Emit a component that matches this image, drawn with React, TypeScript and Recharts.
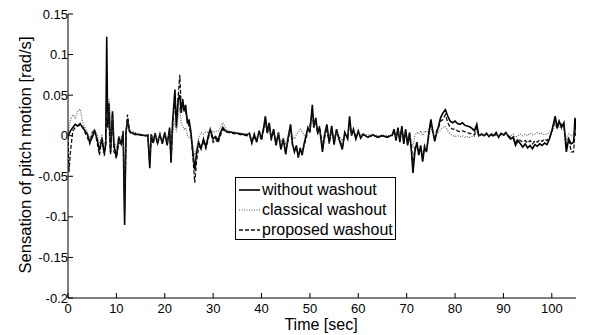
import { LineChart, Line, XAxis, YAxis, Legend, Label } from 'recharts'

// time base [sec] shared by all three series
const time = [
  0, 0.2, 0.5, 1, 1.5, 2, 2.5, 3, 3.5, 4, 4.5, 5, 5.5, 6, 6.5, 7, 7.5, 7.8,
  8, 8.2, 8.5, 8.8, 9.2, 9.5, 10, 10.5, 11, 11.4, 11.7, 12, 12.3, 12.7, 13, 14, 15, 16, 16.5,
  16.9, 17.2, 17.6, 18, 18.5, 19, 19.5, 20, 20.5, 21, 21.3, 21.6, 22.1,
  22.4, 22.8, 23.1, 23.4, 23.7, 24, 24.3, 24.7, 25, 25.4, 25.8, 26.2, 26.6, 27, 27.5, 28, 28.5, 29, 29.4,
  30, 30.5, 31, 31.5, 32, 32.5, 33, 34, 35, 36, 37, 37.5, 38, 38.5, 39, 39.5, 40,
  40.5, 40.8, 41.2, 41.6, 42, 42.5, 43, 43.5, 44, 44.5, 45, 45.5, 46, 46.4, 46.8, 47.2, 47.6, 48, 48.4, 48.8, 49.2, 49.6, 50,
  50.5, 50.8, 51.2, 51.6, 52, 52.6, 53, 53.5, 54, 54.5, 55, 55.5, 56, 56.7, 57.2, 57.8, 58.2, 58.6, 59, 59.5, 60, 60.5,
  61, 62, 63, 64, 65, 66, 67, 67.4, 67.8, 68.2, 68.6, 69, 69.4, 69.8, 70.2, 70.6,
  71, 71.3, 71.7, 72.1, 72.5, 72.9, 73.3, 73.7, 74.1, 74.5, 75, 75.4, 75.8, 76.2, 76.6, 77, 77.5, 78, 78.5, 79, 79.5,
  80, 80.5, 81, 81.5, 82, 82.5, 83, 83.5, 84, 84.5, 84.9, 85.5, 86, 86.5, 87, 87.5, 88, 88.5, 89, 89.5, 90, 90.5,
  91, 91.5, 92, 92.5, 93, 93.5, 94, 94.5, 95, 95.5, 96, 96.5, 97, 97.5, 98, 98.5, 99, 99.5, 100, 100.7, 101.1, 101.5, 102, 102.5, 103, 103.5, 104, 104.5, 104.8, 105,
]

const withoutWashout = [
  0, 0.002, 0.006, 0.01, 0.014, 0.012, 0.015, 0.01, 0.006, 0.002, -0.008, -0.002, 0.006, -0.004, -0.018, -0.004, -0.022, -0.01,
  0.122, 0.01, 0.04, -0.02, 0.03, -0.012, -0.026, -0.002, -0.01, 0.004, -0.11, 0.005, 0.02, 0.006, 0.004, 0.002, 0.001, 0, 0.001,
  -0.04, 0.002, -0.008, 0.003, -0.009, 0.002, -0.01, 0.004, -0.012, 0.01, -0.032, 0.015, 0.057,
  0.01, 0.045, 0.05, 0.028, 0.045, 0.03, 0.038, 0.015, 0.02, 0.005, -0.02, -0.042, -0.02, -0.008, -0.016, -0.004, -0.014, 0, 0.008,
  -0.004, -0.001, -0.006, 0.004, 0.01, 0.006, 0.005, 0.004, 0.003, 0.002, 0.001, 0.003, -0.009, 0.002, -0.008, 0.006, -0.004,
  0.012, 0.024, 0.004, 0.016, -0.004, 0.008, -0.012, 0.004, -0.017, -0.004, -0.023, -0.002, 0.014, -0.01, -0.02, -0.012, -0.027, -0.015, -0.024, -0.01, 0, 0.01, 0.004,
  0.038, 0.01, 0.022, 0.004, 0.01, -0.02, 0, 0.014, -0.008, 0.012, -0.011, 0.008, -0.004, -0.017, 0.004, -0.004, 0.024, 0, 0.008, -0.004, 0.006, -0.003,
  0.002, -0.002, 0.001, -0.002, 0, -0.002, 0.001, 0.008, -0.006, 0.01, -0.008, 0.012, -0.01, 0.008, -0.012, 0.004,
  -0.02, -0.046, -0.02, -0.008, -0.024, -0.012, -0.032, -0.014, -0.02, 0, 0.02, 0.006, -0.007, 0.004, 0.012, 0.022, 0.028, 0.032, 0.024, 0.018, 0.016,
  0.018, 0.015, 0.014, 0.016, 0.013, 0.012, 0.011, 0.009, 0.006, 0.014, 0, 0.002, 0, 0.003, -0.001, 0.002, 0, 0.004, -0.002, 0.003, 0.001, 0.004,
  -0.001, -0.004, -0.002, -0.012, -0.006, -0.01, -0.014, -0.01, -0.015, -0.012, -0.016, -0.011, -0.013, -0.01, -0.012, -0.009, -0.011, -0.004, 0.006, 0.024, 0.01, 0.018, 0.01, 0.016, -0.02, -0.004, -0.01, -0.008, 0.022, 0.005,
]

const classicalWashout = [
  0, 0.01, 0.02, 0.026, 0.022, 0.03, 0.033, 0.018, 0.01, 0.004, -0.004, 0.002, 0.008, 0.002, -0.01, 0, -0.012, -0.005,
  0.03, 0.02, 0.045, -0.01, 0.025, -0.005, -0.015, 0, -0.004, 0.004, -0.06, 0.004, 0.018, 0.008, 0.006, 0.004, 0.002, 0.001, 0.001,
  -0.02, 0.002, -0.004, 0.002, -0.006, 0.001, -0.004, 0.003, -0.006, 0.004, -0.015, 0, 0.02,
  0.005, 0.025, 0.035, 0.015, 0.012, 0.008, 0.01, 0, -0.002, -0.004, -0.012, -0.025, -0.015, -0.002, 0.004, 0.002, 0.005, 0.004, 0.008,
  0.004, 0.006, 0.005, 0.01, 0.016, 0.01, 0.006, 0.005, 0.004, 0.003, 0.002, 0.002, -0.004, 0, -0.002, 0.003, 0.001,
  0.006, 0.012, 0.006, 0.01, 0, 0.004, -0.004, 0.002, -0.008, -0.002, -0.01, 0, 0.006, 0, -0.004, 0.002, 0.004, 0.008, 0.005, 0, 0.002, 0.006, 0.008,
  0.02, 0.012, 0.015, 0.006, 0.005, -0.008, 0.002, 0.008, -0.002, 0.006, -0.004, 0.004, 0, -0.006, 0.002, 0, 0.012, 0.002, 0.004, 0, 0.004, 0.001,
  0.002, 0.001, 0.002, 0, 0.001, 0, 0.001, 0.004, -0.002, 0.005, 0, 0.006, -0.002, 0.004, -0.004, 0.002,
  -0.006, -0.015, 0, 0.004, 0.002, 0.006, 0, 0.006, 0.004, 0.008, 0.01, 0.004, -0.002, 0.002, 0.004, 0.008, 0.01, 0.012, 0.006, 0.002, 0,
  -0.001, 0, -0.001, 0, -0.002, -0.001, -0.002, -0.001, -0.001, 0.008, 0, 0.001, 0, 0.002, 0, 0.001, 0, 0.002, 0, 0.001, 0.002, 0.002,
  0.001, 0, 0.002, -0.002, 0, 0.002, 0, 0.002, 0, 0.003, 0.001, 0.002, 0.004, 0.002, 0.003, 0.001, 0.002, 0.004, 0.006, 0.014, 0.008, 0.012, 0.008, 0.01, -0.004, 0.002, 0, 0.002, 0.01, 0.003,
]

const proposedWashout = [
  0, -0.045, -0.02, 0.006, 0.01, 0.012, 0.013, 0.012, 0.004, -0.002, -0.01, 0.004, 0.007, -0.008, -0.024, -0.002, -0.025, -0.012,
  0.048, 0.045, 0.01, -0.024, 0.028, -0.02, -0.028, -0.008, -0.012, 0.006, -0.095, 0.002, 0.026, 0.005, 0.003, 0.001, 0.001, 0, 0,
  -0.035, -0.002, -0.01, 0.001, -0.01, -0.001, -0.008, 0.002, -0.01, 0.006, -0.034, 0.01, 0.045,
  0.02, 0.05, 0.075, 0.035, 0.04, 0.034, 0.03, 0.018, 0.012, 0.002, -0.025, -0.058, -0.03, -0.015, -0.012, -0.008, -0.016, -0.004, 0.006,
  -0.008, -0.004, -0.009, 0, 0.008, 0.005, 0.004, 0.003, 0.002, 0.001, 0, 0.002, -0.008, -0.002, -0.006, 0.004, -0.006,
  0.01, 0.02, 0.002, 0.014, -0.006, 0.006, -0.01, 0, -0.014, -0.008, -0.018, -0.006, 0.01, -0.012, -0.018, -0.015, -0.024, -0.018, -0.02, -0.012, -0.004, 0.008, 0.012,
  0.03, 0.014, 0.02, 0.002, 0.012, -0.016, -0.004, 0.01, -0.01, 0.008, -0.008, 0.006, -0.002, -0.014, 0.002, -0.002, 0.018, 0.002, 0.006, -0.002, 0.004, -0.002,
  0.001, -0.001, 0, -0.001, 0, -0.001, 0, 0.006, -0.004, 0.008, -0.006, 0.01, -0.008, 0.006, -0.01, 0.002,
  -0.016, -0.036, -0.015, -0.01, -0.02, -0.016, -0.026, -0.012, -0.018, -0.004, 0.016, 0.004, -0.005, 0.006, 0.01, 0.018, 0.02, 0.026, 0.016, 0.01, 0.008,
  0.008, 0.006, 0.005, 0.006, 0.005, 0.004, 0.003, 0.002, 0.001, 0.01, 0, 0.002, 0, 0.002, 0, 0.001, -0.001, 0.002, -0.001, 0.002, 0, 0.003,
  0, -0.002, -0.001, -0.008, -0.004, -0.006, -0.008, -0.006, -0.009, -0.006, -0.01, -0.006, -0.008, -0.005, -0.007, -0.004, -0.006, -0.002, 0.004, 0.02, 0.008, 0.016, 0.014, 0.012, -0.012, -0.002, -0.02, -0.02, 0.005, 0,
]

const xTicks = [0, 10, 20, 30, 40, 50, 60, 70, 80, 90, 100]
const yTicks = [-0.2, -0.15, -0.1, -0.05, 0, 0.05, 0.1, 0.15]

const seriesNames = ['without washout', 'classical washout', 'proposed washout']

const font = '"Liberation Sans", Arial, sans-serif'

const rows = time.map((t, i) => ({
  t,
  without: withoutWashout[i],
  classical: classicalWashout[i],
  proposed: proposedWashout[i],
}))

const styles = [
  { key: 'without', stroke: '#000', dash: undefined, width: 1.6 },
  { key: 'classical', stroke: '#555', dash: '1 1.5', width: 1.1 },
  { key: 'proposed', stroke: '#111', dash: '4 2', width: 1.3 },
]

function LegendBox() {
  return (
    <div style={{ width: 161, height: 63, border: '1px solid #000', background: '#fff', fontFamily: font, fontSize: 16, boxSizing: 'border-box', paddingTop: 2, whiteSpace: 'nowrap' }}>
      {seriesNames.map((name, i) => (
        <div key={name} style={{ display: 'flex', alignItems: 'center', height: 20, lineHeight: '20px', color: '#000' }}>
          <svg width={24} height={10} style={{ marginLeft: 2, flex: 'none' }}>
            <line x1={1} x2={22} y1={5} y2={5} stroke={styles[i].stroke} strokeWidth={styles[i].width} strokeDasharray={styles[i].dash} />
          </svg>
          <span>{name}</span>
        </div>
      ))}
    </div>
  )
}

const tickStyle = { fontSize: 13, fill: '#000', fontFamily: font }

export default function App() {
  return (
    <div style={{ position: 'absolute', left: 0, top: 0, width: 592, height: 335, background: '#fff' }}>
      <LineChart width={592} height={335} data={rows} margin={{ top: 14, right: 16, bottom: 7, left: 8 }}>
        <XAxis
          dataKey="t"
          type="number"
          domain={[0, 105]}
          ticks={xTicks}
          allowDataOverflow
          height={30}
          tickSize={-5}
          tickMargin={11}
          stroke="#000"
          tick={tickStyle}
        >
          <Label
            content={() => (
              <text x={321} y={330} textAnchor="middle" fontSize={16} fontFamily={font} fill="#000">
                Time [sec]
              </text>
            )}
          />
        </XAxis>
        <XAxis
          xAxisId="top"
          orientation="top"
          dataKey="t"
          type="number"
          domain={[0, 105]}
          ticks={xTicks}
          height={0}
          tickSize={-5}
          tickFormatter={() => ''}
          stroke="#000"
        />
        <YAxis
          type="number"
          domain={[-0.2, 0.15]}
          ticks={yTicks}
          allowDataOverflow
          width={60}
          tickSize={-5}
          tickMargin={5}
          tickFormatter={(v: number) => String(v)}
          stroke="#000"
          tick={tickStyle}
        >
          <Label
            content={() => (
              <text x={25} y={155} transform="rotate(-90 25 155)" textAnchor="middle" dominantBaseline="central" fontSize={16.6} fontFamily={font} fill="#000">
                Sensation of pitch motion [rad/s]
              </text>
            )}
          />
        </YAxis>
        <YAxis
          yAxisId="right"
          orientation="right"
          type="number"
          domain={[-0.2, 0.15]}
          ticks={yTicks}
          width={0}
          tickSize={-5}
          tickFormatter={() => ''}
          stroke="#000"
        />
        {styles.map((s, i) => (
          <Line
            key={s.key}
            dataKey={s.key}
            name={seriesNames[i]}
            type="linear"
            stroke={s.stroke}
            strokeWidth={s.width}
            strokeDasharray={s.dash}
            dot={false}
            isAnimationActive={false}
          />
        ))}
        <Legend
          layout="horizontal"
          verticalAlign="middle"
          align="center"
          wrapperStyle={{ left: 235, top: 177, width: 161, height: 63 }}
          content={() => <LegendBox />}
        />
      </LineChart>
    </div>
  )
}
